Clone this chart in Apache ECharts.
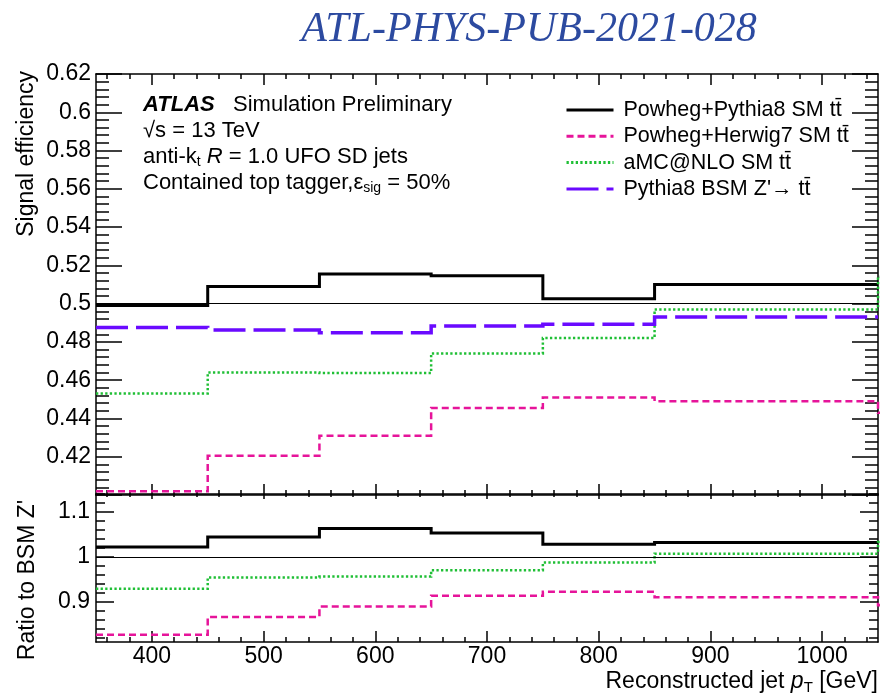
<!DOCTYPE html>
<html>
<head>
<meta charset="utf-8">
<script src="https://cdn.jsdelivr.net/npm/echarts@6/dist/echarts.min.js"></script>
<style>
  html, body { margin: 0; padding: 0; background: #fff; }
  #eff_chart { width: 883px; height: 700px; }
</style>
</head>
<body>
<div id="eff_chart"></div>
<script>
// bin low edges in GeV (last bin is the overflow one, clipped at 1050)
var binEdges = [350, 450, 550, 650, 750, 850, 1050, 1150];

// signal efficiency, upper panel
var effPythia = [0.499, 0.509, 0.5155, 0.5146, 0.5025, 0.510];
var effHerwig = [0.402, 0.4205, 0.431, 0.4455, 0.451, 0.449, 0.443];
var effAmc    = [0.453, 0.464, 0.4637, 0.474, 0.482, 0.497, 0.514];
var effZprime = [0.4875, 0.4862, 0.4848, 0.4883, 0.4892, 0.493];

// ratio to BSM Z', lower panel
var ratioPythia = [1.022, 1.044, 1.063, 1.053, 1.028, 1.032];
var ratioHerwig = [0.826, 0.866, 0.889, 0.913, 0.922, 0.910, 0.892];
var ratioAmc    = [0.929, 0.954, 0.956, 0.970, 0.987, 1.007, 1.033];

var xMajorTicks = [400, 500, 600, 700, 800, 900, 1000];
var ratioMajorTicks = [0.9, 1, 1.1];

var seriesNames = [
    'Powheg+Pythia8 SM t' + 't\u0304',
    'Powheg+Herwig7 SM t' + 't\u0304',
    'aMC@NLO SM t' + 't\u0304',
    "Pythia8 BSM Z'\u2192 t" + 't\u0304'
];

(function() {
    var chart = echarts.init(document.getElementById('eff_chart'));
    var FONT = '"Liberation Sans", Arial, sans-serif';

    var xMinorTicks = [];
    for (var x = 360; x <= 1040; x += 20) {
        if (x % 100 !== 0) xMinorTicks.push(x);
    }
    var ratioMinorTicks = [];
    for (var k = 41; k <= 57; k++) {
        ratioMinorTicks.push(Math.round(k * 2) / 100);
    }

    // histogram outline: each bin gives its two corner points
    function steps(vals) {
        var pts = [];
        vals.forEach(function(v, i) {
            pts.push([binEdges[i], v]);
            pts.push([binEdges[i + 1], v]);
        });
        return pts;
    }

    function xAx(grid, pos, ticks, len, line, labels) {
        return {
            type: 'value', gridIndex: grid, position: pos,
            min: 350, max: 1050,
            axisLine: { show: line, onZero: false, lineStyle: { color: '#000', width: 1.5 } },
            axisTick: { show: true, inside: true, length: len, customValues: ticks,
                lineStyle: { color: '#000', width: 1.5 } },
            axisLabel: { show: labels, customValues: ticks, margin: 3,
                color: '#000', fontSize: 23, fontFamily: FONT,
                formatter: function(v) { return String(v); } },
            splitLine: { show: false }
        };
    }

    function yRatio(pos, ticks, len, line, labels) {
        return {
            type: 'value', gridIndex: 1, position: pos,
            min: 0.81, max: 1.14,
            axisLine: { show: line, onZero: false, lineStyle: { color: '#000', width: 1.5 } },
            axisTick: { show: true, inside: true, length: len, customValues: ticks,
                lineStyle: { color: '#000', width: 1.5 } },
            axisLabel: { show: labels, customValues: ticks, margin: 6,
                color: '#000', fontSize: 23, fontFamily: FONT },
            splitLine: { show: false }
        };
    }

    function yEff(pos, labels) {
        return {
            type: 'value', gridIndex: 0, position: pos,
            min: 0.40, max: 0.62, interval: 0.02,
            axisLine: { show: true, onZero: false, lineStyle: { color: '#000', width: 1.5 } },
            axisTick: { show: true, inside: true, length: 26, lineStyle: { color: '#000', width: 1.5 } },
            minorTick: { show: true, splitNumber: 5, length: 13, lineStyle: { color: '#000', width: 1.5 } },
            axisLabel: {
                show: labels, margin: 5, color: '#000', fontSize: 23, fontFamily: FONT,
                formatter: function(v) { return v < 0.41 ? '' : String(+v.toFixed(2)); }
            },
            splitLine: { show: false },
            minorSplitLine: { show: false }
        };
    }

    var styles = [
        { color: '#000000', width: 3, type: 'solid' },
        { color: '#e6149a', width: 2.5, type: [7, 4] },
        { color: '#1fbf35', width: 2.5, type: [2.3, 2.3] },
        { color: '#6a0aff', width: 3.5, type: [32, 8] }
    ];

    // legend-only line series (empty), also carries the reference lines
    function legendSeries(idx, xi, yi, ref) {
        var s = {
            name: seriesNames[idx], type: 'line', data: [],
            xAxisIndex: xi, yAxisIndex: yi, symbol: 'none',
            color: styles[idx].color,
            lineStyle: { color: styles[idx].color, width: styles[idx].width, type: styles[idx].type },
            animation: false, silent: true
        };
        if (ref !== undefined) {
            s.markLine = {
                silent: true, symbol: 'none', animation: false,
                label: { show: false },
                lineStyle: { color: '#000', width: 1, type: 'solid' },
                data: [{ yAxis: ref }]
            };
        }
        return s;
    }

    // the histogram itself, as one polyline per sample
    function hist(idx, vals, xi, yi) {
        return {
            type: 'lines', coordinateSystem: 'cartesian2d',
            xAxisIndex: xi, yAxisIndex: yi,
            polyline: true, clip: true, silent: true, animation: false,
            lineStyle: { color: styles[idx].color, width: styles[idx].width, type: styles[idx].type,
                opacity: 1, cap: 'butt', join: 'miter', curveness: 0 },
            data: [{ coords: steps(vals) }]
        };
    }

    var sub = { fontSize: 14, fontFamily: FONT, padding: [11, 0, 0, 0], color: '#000' };

    option = {
        backgroundColor: '#fff',
        animation: false,
        grid: [
            { left: 96, right: 5, top: 74, height: 421 },
            { left: 96, right: 5, top: 494, height: 148 }
        ],
        xAxis: [
            xAx(0, 'bottom', xMajorTicks, 11, true, false),
            xAx(0, 'bottom', xMinorTicks, 5, false, false),
            xAx(0, 'top', xMajorTicks, 11, true, false),
            xAx(0, 'top', xMinorTicks, 5, false, false),
            xAx(1, 'bottom', xMajorTicks, 11, true, true),
            xAx(1, 'bottom', xMinorTicks, 5, false, false),
            xAx(1, 'top', xMajorTicks, 5, true, false),
            xAx(1, 'top', xMinorTicks, 3, false, false)
        ],
        yAxis: [
            yEff('left', true),
            yEff('right', false),
            yRatio('left', ratioMajorTicks, 18, true, true),
            yRatio('left', ratioMinorTicks, 9, false, false),
            yRatio('right', ratioMajorTicks, 18, true, false),
            yRatio('right', ratioMinorTicks, 9, false, false)
        ],
        legend: {
            orient: 'vertical',
            left: 560, top: 94,
            itemWidth: 47, itemHeight: 14, itemGap: 4.3,
            selectedMode: false,
            itemStyle: { opacity: 0 },
            lineStyle: { width: 3 },
            textStyle: { color: '#000', fontSize: 21.5, fontFamily: FONT, lineHeight: 21, padding: [0, 0, 0, 5] },
            data: seriesNames
        },
        series: [
            legendSeries(0, 0, 0, 0.5),
            legendSeries(1, 0, 0),
            legendSeries(2, 0, 0),
            legendSeries(3, 0, 0),
            legendSeries(0, 4, 2, 1),
            hist(0, effPythia, 0, 0),
            hist(1, effHerwig, 0, 0),
            hist(2, effAmc, 0, 0),
            hist(3, effZprime, 0, 0),
            hist(0, ratioPythia, 4, 2),
            hist(1, ratioHerwig, 4, 2),
            hist(2, ratioAmc, 4, 2)
        ],
        graphic: [
            { type: 'text', x: 529, y: 30, silent: true,
              style: { text: 'ATL-PHYS-PUB-2021-028', fill: '#2c4aa0', align: 'center', verticalAlign: 'middle',
                font: 'italic 42px "Liberation Serif", "DejaVu Serif", serif' } },
            { type: 'text', x: 143, y: 105, silent: true,
              style: { text: '{b|ATLAS}   Simulation Preliminary', fill: '#000', verticalAlign: 'middle',
                font: '22px ' + FONT,
                rich: { b: { fontSize: 22, fontFamily: FONT, fontWeight: 'bold', fontStyle: 'italic', color: '#000' } } } },
            { type: 'text', x: 143, y: 131, silent: true,
              style: { text: '\u221As = 13 TeV', fill: '#000', verticalAlign: 'middle', font: '22px ' + FONT } },
            { type: 'text', x: 143, y: 157, silent: true,
              style: { text: 'anti-k{s|t} {i|R} = 1.0 UFO SD jets', fill: '#000', verticalAlign: 'middle',
                font: '22px ' + FONT,
                rich: { s: sub, i: { fontSize: 22, fontFamily: FONT, fontStyle: 'italic', color: '#000' } } } },
            { type: 'text', x: 143, y: 183, silent: true,
              style: { text: 'Contained top tagger,\u03B5{s|sig} = 50%', fill: '#000', verticalAlign: 'middle',
                font: '22px ' + FONT, rich: { s: sub } } },
            { type: 'text', x: 27, y: 71, rotation: Math.PI / 2, silent: true,
              style: { text: 'Signal efficiency', fill: '#000', align: 'right', verticalAlign: 'middle',
                font: '23px ' + FONT } },
            { type: 'text', x: 28, y: 580, rotation: Math.PI / 2, silent: true,
              style: { text: "Ratio to BSM Z'", fill: '#000', align: 'center', verticalAlign: 'middle',
                font: '23px ' + FONT } },
            { type: 'text', x: 878, y: 682, silent: true,
              style: { text: 'Reconstructed jet {i|p}{s|T} [GeV]', fill: '#000', align: 'right', verticalAlign: 'middle',
                font: '23px ' + FONT,
                rich: { i: { fontSize: 23, fontFamily: FONT, fontStyle: 'italic', color: '#000' },
                        s: { fontSize: 15, fontFamily: FONT, padding: [12, 0, 0, 0], color: '#000' } } } }
        ]
    };
    chart.setOption(option);
})();
</script>
</body>
</html>
